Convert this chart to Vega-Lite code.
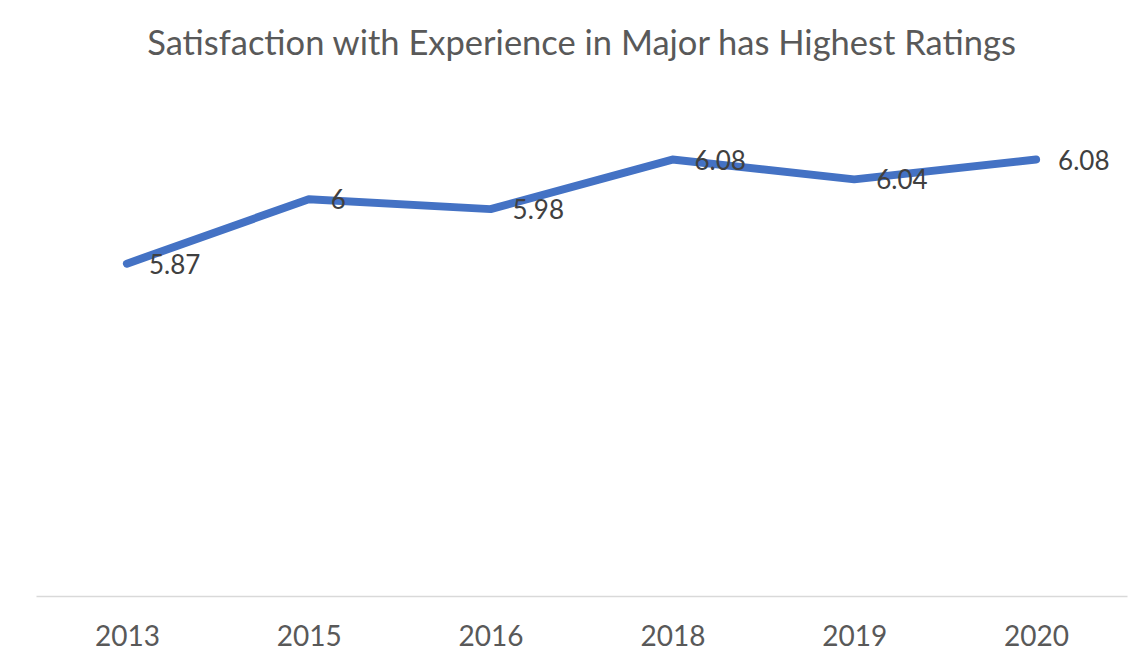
{
  "$schema": "https://vega.github.io/schema/vega-lite/v6.json",
  "autosize": {"type": "none"},
  "width": 1091,
  "height": 496,
  "padding": {"left": 36, "top": 100, "right": 19, "bottom": 74},
  "background": "white",
  "title": {
    "text": "Satisfaction with Experience in Major has Highest Ratings",
    "anchor": "middle",
    "baseline": "middle",
    "offset": 21,
    "font": "Lato",
    "fontSize": 34.5,
    "fontWeight": "normal",
    "color": "#595959"
  },
  "config": {"view": {"stroke": null}},
  "data": {
    "values": [
      {"year": "2013", "rating": 5.87},
      {"year": "2015", "rating": 6.0},
      {"year": "2016", "rating": 5.98},
      {"year": "2018", "rating": 6.08},
      {"year": "2019", "rating": 6.04},
      {"year": "2020", "rating": 6.08}
    ]
  },
  "encoding": {
    "x": {
      "field": "year",
      "type": "ordinal",
      "sort": null,
      "scale": {"paddingInner": 0, "paddingOuter": 0},
      "axis": {
        "title": null,
        "labelAngle": 0,
        "ticks": false,
        "domainColor": "#D9D9D9",
        "domainWidth": 1.5,
        "labelFont": "Lato",
        "labelFontSize": 28,
        "labelColor": "#595959",
        "labelPadding": 41,
        "labelBaseline": "middle",
        "grid": false
      }
    },
    "y": {
      "field": "rating",
      "type": "quantitative",
      "scale": {"domain": [5.2, 6.2], "zero": false, "nice": false},
      "axis": null
    }
  },
  "layer": [
    {
      "mark": {"type": "line", "color": "#4472C4", "strokeWidth": 8, "strokeCap": "round", "strokeJoin": "round"}
    },
    {
      "mark": {"type": "text", "align": "left", "baseline": "middle", "dx": 22, "dy": 2, "font": "Lato", "fontSize": 26, "color": "#404040"},
      "encoding": {"text": {"field": "rating", "type": "quantitative"}}
    }
  ]
}
